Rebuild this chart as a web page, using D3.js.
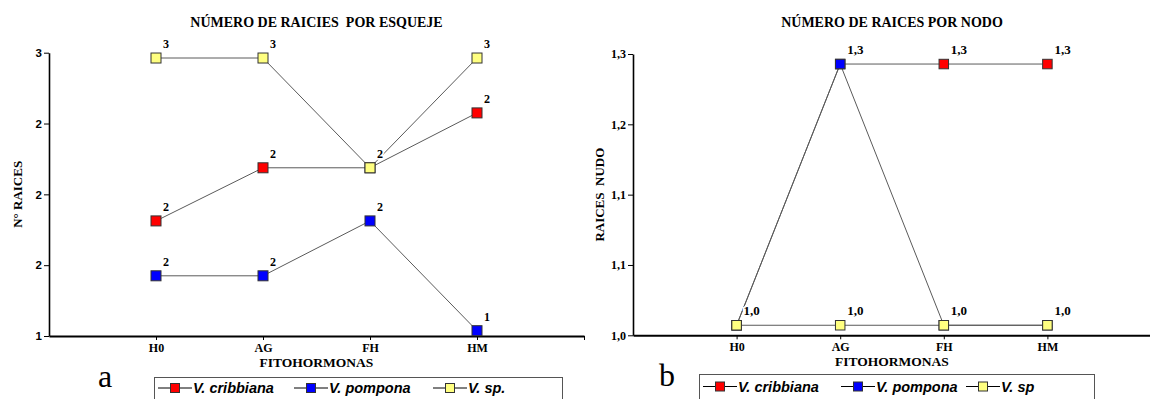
<!DOCTYPE html>
<html>
<head>
<meta charset="utf-8">
<script src="https://cdn.jsdelivr.net/npm/d3@7"></script>
<style>
  html, body { margin: 0; padding: 0; background: #fff; }
  svg { display: block; }
  text { white-space: pre; }
</style>
</head>
<body>
<svg id="chart" width="1150" height="399"></svg>
<script>
// Categories (plant hormone treatments)
const categories = ["H0", "AG", "FH", "HM"];
const seriesNamesA = ["V. cribbiana", "V. pompona", "V. sp."];
const seriesNamesB = ["V. cribbiana", "V. pompona", "V. sp"];
const seriesColors = ["#ff0000", "#0000ff", "#ffff80"];

// a) roots per cutting
const cribbianaA = [1.85, 2.15, 2.15, 2.46];
const pomponaA   = [1.54, 1.54, 1.85, 1.23];
const spA        = [2.77, 2.77, 2.15, 2.77];
const yTicksA    = [1.2, 1.6, 2.0, 2.4, 2.8];

// b) roots per node
const cribbianaB = [1.0, 1.286, 1.286, 1.286];
const pomponaB   = [1.0, 1.286, 1.0, 1.0];
const spB        = [1.0, 1.0, 1.0, 1.0];
const yTicksB    = [0.989, 1.066, 1.143, 1.220, 1.297];

const esLocale = d3.formatLocale({ decimal: ",", thousands: ".", grouping: [3], currency: ["", " €"] });

const SERIF = "'Liberation Serif', 'Times New Roman', serif";
const SANS = "'Liberation Sans', Arial, sans-serif";

const svg = d3.select("#chart");

function drawPanel(cfg) {
  const g = svg.append("g");

  const x = d3.scaleLinear().domain([0, categories.length + 1]).range([cfg.x0, cfg.x1]);
  const y = d3.scaleLinear().domain([cfg.ticks[0], cfg.ticks[cfg.ticks.length - 1]]).range([cfg.yBottom, cfg.yTop]);

  // title
  g.append("text")
    .attr("x", (cfg.x0 + cfg.x1) / 2).attr("y", 27)
    .attr("text-anchor", "middle")
    .attr("font-family", SERIF).attr("font-weight", "bold").attr("font-size", 14)
    .text(cfg.title);

  // y axis
  const yAxis = g.append("g")
    .attr("transform", `translate(${cfg.x0},0)`)
    .call(d3.axisLeft(y).tickValues(cfg.ticks).tickFormat(cfg.fmt).tickSize(5).tickSizeOuter(0).tickPadding(2));
  yAxis.select(".domain").attr("stroke", "#000").attr("stroke-width", 1.6);
  yAxis.selectAll(".tick line").attr("stroke", "#000").attr("stroke-width", 1);
  yAxis.selectAll(".tick text")
    .attr("font-family", cfg.tickFont).attr("font-weight", "bold").attr("font-size", cfg.tickSize)
    .attr("fill", "#000");

  // x axis
  const xAxis = g.append("g")
    .attr("transform", `translate(0,${cfg.yBottom})`)
    .call(d3.axisBottom(x)
      .tickValues(d3.range(1, categories.length + 2))
      .tickFormat(i => categories[i - 1] || "")
      .tickSize(4).tickSizeOuter(0).tickPadding(3));
  xAxis.select(".domain").attr("stroke", "#000").attr("stroke-width", 2);
  xAxis.selectAll(".tick line").attr("stroke", "#000").attr("stroke-width", 1);
  xAxis.selectAll(".tick text")
    .attr("font-family", SERIF).attr("font-weight", "bold").attr("font-size", 12)
    .attr("fill", "#000");

  // axis titles
  g.append("text")
    .attr("x", (cfg.x0 + cfg.x1) / 2).attr("y", cfg.yBottom + 31)
    .attr("text-anchor", "middle")
    .attr("font-family", SERIF).attr("font-weight", "bold").attr("font-size", 13.5)
    .text("FITOHORMONAS");

  const yMid = (cfg.yTop + cfg.yBottom) / 2;
  g.append("text")
    .attr("transform", `translate(${cfg.yLabelX},${yMid}) rotate(-90)`)
    .attr("text-anchor", "middle")
    .attr("font-family", SERIF).attr("font-weight", "bold").attr("font-size", 13)
    .text(cfg.yLabel);

  const line = d3.line().x((d, i) => x(i + 1)).y(d => y(d));

  // series lines
  cfg.series.forEach(vals => {
    g.append("path").datum(vals)
      .attr("d", line)
      .attr("fill", "none").attr("stroke", "#5a5a5a").attr("stroke-width", 1);
  });

  // markers
  const m = cfg.marker;
  cfg.series.forEach((vals, s) => {
    g.selectAll(null).data(vals).enter().append("rect")
      .attr("x", (d, i) => x(i + 1) - m / 2)
      .attr("y", d => y(d) - m / 2)
      .attr("width", m).attr("height", m)
      .attr("fill", seriesColors[s]).attr("stroke", "#333").attr("stroke-width", 1);
  });

  // value labels
  cfg.series.forEach(vals => {
    g.selectAll(null).data(vals).enter().append("text")
      .attr("x", (d, i) => x(i + 1) + 7)
      .attr("y", d => y(d) - 10)
      .attr("font-family", SERIF).attr("font-weight", "bold").attr("font-size", cfg.labelSize)
      .attr("fill", "#000")
      .attr("stroke", "#fff").attr("stroke-width", 3).attr("paint-order", "stroke")
      .text(d => cfg.fmt(d));
  });

  // panel letter
  g.append("text")
    .attr("x", cfg.letterX).attr("y", cfg.letterY)
    .attr("font-family", SERIF).attr("font-size", 32)
    .text(cfg.letter);

  // legend
  const lg = g.append("g").attr("transform", `translate(${cfg.legend.x},${cfg.legend.y})`);
  lg.append("rect")
    .attr("x", 0.5).attr("y", 0.5)
    .attr("width", cfg.legend.w).attr("height", 40)
    .attr("fill", "#fff").attr("stroke", "#555").attr("stroke-width", 1);
  cfg.names.forEach((name, s) => {
    const ox = cfg.legend.items[s];
    const cy = cfg.legend.cy;
    lg.append("line")
      .attr("x1", ox).attr("x2", ox + 34).attr("y1", cy).attr("y2", cy)
      .attr("stroke", "#000").attr("stroke-width", 1);
    lg.append("rect")
      .attr("x", ox + 17 - 4.5).attr("y", cy - 4.5).attr("width", 9).attr("height", 9)
      .attr("fill", seriesColors[s]).attr("stroke", "#333").attr("stroke-width", 1);
    lg.append("text")
      .attr("x", ox + 35).attr("y", cy + 5)
      .attr("font-family", SANS).attr("font-weight", "bold").attr("font-style", "italic")
      .attr("font-size", 14.5)
      .text(name);
  });
}

drawPanel({
  title: "NÚMERO DE RAICIES  POR ESQUEJE",
  x0: 49, x1: 584,
  yTop: 52.7, yBottom: 336,
  ticks: yTicksA, fmt: d3.format(".0f"),
  tickFont: SANS, tickSize: 11.5,
  labelSize: 12,
  yLabel: "N° RAICES", yLabelX: 22,
  series: [cribbianaA, pomponaA, spA],
  names: seriesNamesA,
  marker: 10,
  letter: "a", letterX: 98, letterY: 387,
  legend: { x: 154, y: 377, w: 408, cy: 11, items: [4, 140, 279] }
});

drawPanel({
  title: "NÚMERO DE RAICES POR NODO",
  x0: 633, x1: 1151,
  yTop: 54, yBottom: 335.3,
  ticks: yTicksB, fmt: esLocale.format(".1f"),
  tickFont: SERIF, tickSize: 12,
  labelSize: 13,
  yLabel: "RAICES  NUDO", yLabelX: 604,
  series: [cribbianaB, pomponaB, spB],
  names: seriesNamesB,
  marker: 9.5,
  letter: "b", letterX: 659, letterY: 386,
  legend: { x: 699, y: 374, w: 395, cy: 12.5, items: [4, 142, 267] }
});
</script>
</body>
</html>
